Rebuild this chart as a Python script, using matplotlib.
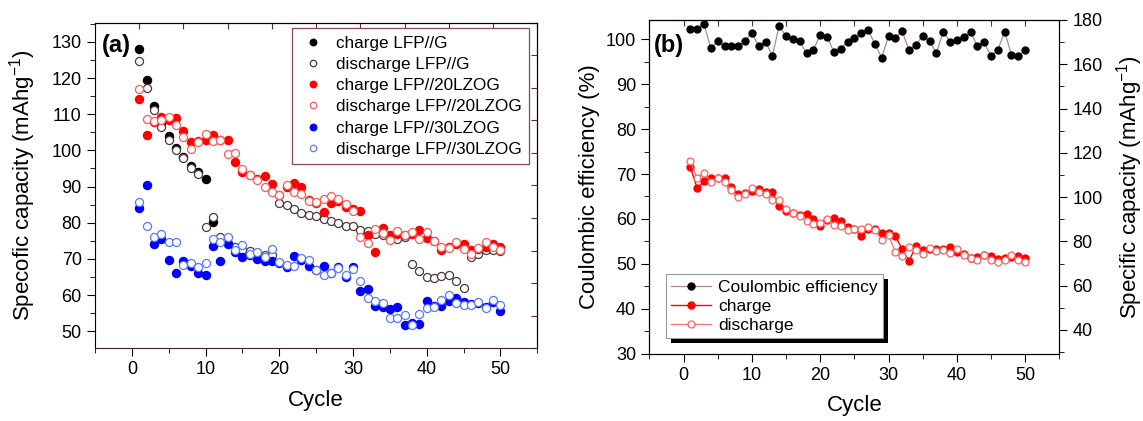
import numpy as np
import matplotlib.pyplot as plt
from matplotlib.patches import Rectangle
from matplotlib.transforms import IdentityTransform
from matplotlib.ticker import MultipleLocator, NullFormatter

plt.rcParams['font.family'] = ['Liberation Sans', 'DejaVu Sans']
plt.rcParams['mathtext.fontset'] = 'custom'
plt.rcParams['mathtext.rm'] = 'Liberation Sans'
plt.rcParams['mathtext.it'] = 'Liberation Sans:italic'
plt.rcParams['mathtext.bf'] = 'Liberation Sans:bold'

cycles = np.arange(1, 51)

# ---- panel (a): capacity of the three cells ----
charge_g = [128.0, 119.4, 112.2, 107.6, 103.9, 100.6, 98.3, 95.7, 93.9, 92.0, 80.3]
discharge_g = [124.8, 117.3, 111.1, 106.6, 103.0, 100.0, 97.8, 95.2, 93.5, 78.9,
               81.5, 76.2, 74.5, 73.2, 72.5, 72.1, 71.7, 71.2, 71.2, 85.5,
               84.8, 83.9, 82.7, 82.2, 82.0, 80.9, 80.4, 80.0, 79.2, 79.2,
               78.1, 77.6, 76.9, 76.5, 75.8, 75.5, 76.2, 68.6, 66.6, 65.1,
               64.6, 65.4, 65.6, 64.0, 62.1, 70.6, 71.5, 72.6, 72.6, 72.1]
charge_20 = [114.2, 104.3, 107.8, 109.2, 108.5, 108.9, 105.3, 102.2, 102.5, 103.0,
             104.2, 103.0, 103.0, 96.7, 94.0, 93.2, 92.0, 92.8, 90.8, 87.8,
             90.0, 91.1, 89.8, 86.3, 85.5, 83.1, 85.4, 86.0, 84.3, 83.8,
             83.2, 76.5, 72.0, 78.5, 76.5, 76.8, 76.6, 77.0, 78.1, 75.9,
             75.0, 72.5, 73.4, 74.0, 74.0, 72.4, 72.8, 73.3, 74.0, 73.3]
discharge_20 = [117.0, 108.8, 108.0, 108.5, 109.2, 107.1, 103.7, 100.5, 102.2, 104.6,
                102.6, 102.8, 99.1, 99.4, 94.8, 93.3, 91.7, 90.0, 88.6, 87.8,
                90.5, 88.6, 88.0, 86.1, 85.8, 86.5, 87.3, 86.5, 85.2, 83.3,
                76.2, 74.3, 78.3, 77.1, 75.2, 77.8, 76.5, 77.4, 75.5, 77.4,
                75.0, 73.3, 73.1, 74.8, 72.7, 71.3, 73.1, 74.6, 73.3, 72.5]
charge_30 = [84.1, 90.4, 74.0, 75.5, 69.8, 66.1, 69.3, 68.1, 66.1, 65.6,
             73.5, 69.5, 74.2, 72.0, 70.4, 71.1, 70.0, 69.5, 69.5, 68.9,
             67.9, 70.9, 69.8, 68.1, 67.0, 68.1, 66.2, 67.8, 65.1, 67.9,
             61.0, 61.7, 57.0, 56.6, 56.1, 56.8, 51.8, 52.4, 52.0, 58.3,
             57.0, 57.0, 58.4, 59.3, 58.0, 57.6, 57.8, 56.8, 58.2, 55.6]
discharge_30 = [85.8, 79.2, 76.2, 76.9, 74.8, 74.8, 68.4, 69.0, 67.7, 68.9,
                75.5, 74.6, 76.0, 72.5, 73.9, 71.5, 72.0, 70.6, 72.7, 69.2,
                68.4, 68.1, 70.2, 69.8, 66.9, 65.6, 66.0, 67.4, 65.6, 67.2,
                64.0, 59.3, 58.4, 57.9, 53.8, 53.8, 54.5, 51.7, 54.8, 56.3,
                56.6, 58.7, 60.1, 57.7, 57.3, 57.3, 58.0, 56.3, 58.6, 57.3]

# ---- panel (b): coulombic efficiency and capacity of LFP//20LZOG ----
ce = [102.4, 102.4, 103.4, 98.0, 99.6, 98.4, 98.5, 98.4, 99.6, 101.5,
      98.4, 99.5, 96.3, 103.0, 100.7, 100.0, 99.6, 96.9, 97.6, 101.0,
      100.6, 97.2, 97.8, 99.5, 100.2, 101.3, 102.1, 99.0, 95.9, 100.7,
      100.4, 101.8, 97.6, 98.7, 100.8, 99.6, 96.9, 101.7, 99.5, 99.9,
      100.6, 101.7, 98.4, 99.3, 96.3, 97.6, 101.7, 96.5, 96.3, 97.6]
charge_b = [113.6, 103.9, 107.3, 108.8, 108.4, 108.4, 104.6, 101.6, 102.0, 102.8,
            103.6, 102.5, 102.1, 96.0, 93.6, 93.0, 92.0, 92.3, 90.3, 86.9,
            89.8, 90.6, 89.3, 86.3, 85.5, 82.3, 85.4, 85.5, 83.6, 84.0,
            82.3, 76.5, 71.1, 77.8, 76.0, 76.5, 76.4, 76.5, 77.5, 75.3,
            74.5, 72.3, 73.0, 74.0, 73.3, 72.0, 72.5, 73.0, 73.3, 72.5]
discharge_b = [116.3, 108.4, 111.1, 106.6, 108.8, 106.6, 103.1, 100.1, 101.6, 103.9,
               102.1, 101.3, 98.6, 98.9, 94.4, 92.9, 91.4, 89.3, 87.8, 88.1,
               89.9, 87.3, 86.9, 85.3, 85.4, 85.8, 86.6, 85.1, 80.6, 82.8,
               75.3, 73.5, 77.5, 76.0, 74.5, 77.2, 75.6, 76.3, 74.7, 76.5,
               74.0, 72.7, 71.8, 74.0, 71.8, 70.7, 71.8, 74.0, 71.8, 70.7]

fig = plt.figure(figsize=(11.43, 4.21), dpi=100)
ax1 = fig.add_axes([0.0831, 0.1727, 0.387, 0.7734])
ax2 = fig.add_axes([0.5681, 0.1601, 0.3587, 0.7924])

ms = 5.8
ax1.plot(cycles[:11], charge_g, 'o', color='black', ms=ms, label='charge LFP//G')
ax1.plot(cycles, discharge_g, 'o', mfc='white', mec='#4a3a3a', mew=0.9, ms=ms,
         label='discharge LFP//G')
ax1.plot(cycles, charge_20, 'o', color='#ff0000', ms=ms, label='charge LFP//20LZOG')
ax1.plot(cycles, discharge_20, 'o', mfc='white', mec='#ff5a5a', mew=0.9, ms=ms,
         label='discharge LFP//20LZOG')
ax1.plot(cycles, charge_30, 'o', color='#0000ff', ms=ms, label='charge LFP//30LZOG')
ax1.plot(cycles, discharge_30, 'o', mfc='white', mec='#5a78ff', mew=0.9, ms=ms,
         label='discharge LFP//30LZOG')

ax1.set_xlim(-5, 55)
ax1.set_ylim(45.3, 135.3)
ax1.xaxis.set_major_locator(MultipleLocator(10))
ax1.xaxis.set_minor_locator(MultipleLocator(5))
ax1.yaxis.set_major_locator(MultipleLocator(10))
ax1.yaxis.set_minor_locator(MultipleLocator(5))
ax1.tick_params(which='both', direction='out', labelsize=13, top=False, right=False)
ax1.tick_params(which='major', length=6, pad=3.5)
ax1.tick_params(which='minor', length=3.5)
ax1.spines['bottom'].set_color('#3a2222')
ax1.set_xlabel('Cycle', fontsize=16, labelpad=8)
ax1.set_ylabel('Specofic capacity (mAhg$^{-1}$)', fontsize=16)
ax1.yaxis.set_label_coords(-0.128, 0.5)
ax1.text(0.015, 0.93, '(a)', transform=ax1.transAxes, fontsize=17,
         fontweight='bold', va='center', ha='left')

top_a = ax1.secondary_xaxis('top', functions=(lambda x: (x + 5) / 60,
                                               lambda f: f * 60 - 5))
top_a.set_xticks(np.linspace(0, 1, 11))
top_a.xaxis.set_major_formatter(NullFormatter())
top_a.tick_params(direction='in', length=4, color='#6a2a2a')
right_a = ax1.secondary_yaxis('right', functions=(lambda y: (y - 45.3) / 90,
                                                  lambda f: f * 90 + 45.3))
right_a.set_yticks(np.linspace(0, 1, 11))
right_a.yaxis.set_major_formatter(NullFormatter())
right_a.tick_params(direction='in', length=4, color='#6a2a2a')

leg1 = ax1.legend(loc='upper right', bbox_to_anchor=(0.982, 0.983), borderaxespad=0,
                  fontsize=12.3, frameon=True, fancybox=False, handlelength=1.5,
                  handletextpad=0.6, labelspacing=0.36, markerscale=0.8,
                  borderpad=0.45, framealpha=1)
leg1.get_frame().set_edgecolor('#8a4a4a')
leg1.get_frame().set_linewidth(0.9)

# panel (b)
ax2r = ax2.twinx()
ax2.plot(cycles, ce, '-o', color='#b08a8a', lw=0.9, mfc='black', mec='black', ms=5,
         label='Coulombic efficiency', zorder=3)
l_ch, = ax2r.plot(cycles, charge_b, '-o', color='#ff0000', lw=1.0, ms=5,
                  label='charge')
l_dis, = ax2r.plot(cycles, discharge_b, '-o', color='#ff7272', lw=0.9, mfc='white',
                   mec='#ff6060', mew=0.9, ms=5, label='discharge')

ax2.set_xlim(-5, 55)
ax2.set_ylim(30, 104.3)
ax2r.set_ylim(29.3, 180)
ax2.xaxis.set_major_locator(MultipleLocator(10))
ax2.xaxis.set_minor_locator(MultipleLocator(5))
ax2.yaxis.set_major_locator(MultipleLocator(10))
ax2.yaxis.set_minor_locator(MultipleLocator(5))
ax2r.yaxis.set_minor_locator(MultipleLocator(10))
ax2.tick_params(which='both', direction='out', labelsize=13, top=False)
ax2.tick_params(which='major', length=6, pad=3.5)
ax2.tick_params(which='minor', length=3.5)
ax2r.tick_params(which='both', direction='out', labelsize=13)
ax2r.tick_params(which='major', length=6, pad=3.5)
ax2r.tick_params(which='minor', length=3.5)
ax2r.set_yticks(np.arange(40, 181, 20))
ax2.set_xlabel('Cycle', fontsize=16, labelpad=8)
ax2.set_ylabel('Coulombic efficiency (%)', fontsize=16)
ax2r.set_ylabel('Specific capacity (mAhg$^{-1}$)', fontsize=16, labelpad=8)
ax2.text(0.01, 0.925, '(b)', transform=ax2.transAxes, fontsize=17,
         fontweight='bold', va='center', ha='left')

top_b = ax2.secondary_xaxis('top')
top_b.set_xticks(np.arange(-5, 56, 5))
top_b.xaxis.set_major_formatter(NullFormatter())
top_b.tick_params(direction='in', length=4, color='#6a2a2a')

handles = ax2.get_legend_handles_labels()[0] + [l_ch, l_dis]
leg2 = ax2r.legend(handles=handles, loc='lower left', bbox_to_anchor=(0.041, 0.047),
                   bbox_transform=ax2.transAxes, borderaxespad=0, fontsize=12.5,
                   frameon=True, fancybox=False, handlelength=2.3,
                   handletextpad=0.4, labelspacing=0.22, borderpad=0.3,
                   framealpha=1)
leg2.get_frame().set_edgecolor('#999999')
leg2.get_frame().set_linewidth(0.8)

# thick black drop shadow behind the legend box, as in the original
fig.canvas.draw()
bb = leg2.get_frame().get_window_extent()
ax2r.add_artist(Rectangle((bb.x0 + 5, bb.y0 - 5), bb.width, bb.height,
                          transform=IdentityTransform(), facecolor='black',
                          edgecolor='none', zorder=4.9, clip_on=False))

fig.savefig('out.png', dpi=100)
